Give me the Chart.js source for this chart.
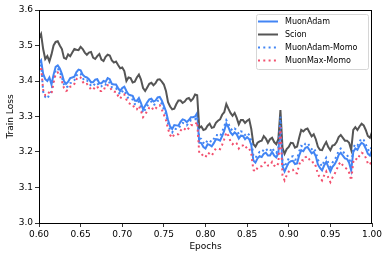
<!DOCTYPE html>
<html>
<head>
<meta charset="utf-8">
<script src="https://cdn.jsdelivr.net/npm/chart.js@4"></script>
<style>
  html, body { margin: 0; padding: 0; background: #fff; }
</style>
</head>
<body>
<canvas id="chart" width="389" height="257"></canvas>
<script>
  const epochs = [
    0.6000, 0.6025, 0.6050, 0.6075, 0.6100, 0.6125, 0.6150, 0.6175, 0.6200, 0.6225,
    0.6250, 0.6275, 0.6300, 0.6325, 0.6350, 0.6375, 0.6400, 0.6425, 0.6450, 0.6475,
    0.6500, 0.6525, 0.6550, 0.6575, 0.6600, 0.6625, 0.6650, 0.6675, 0.6700, 0.6725,
    0.6750, 0.6775, 0.6800, 0.6825, 0.6850, 0.6875, 0.6900, 0.6925, 0.6950, 0.6975,
    0.7000, 0.7025, 0.7050, 0.7075, 0.7100, 0.7125, 0.7150, 0.7175, 0.7200, 0.7225,
    0.7250, 0.7275, 0.7300, 0.7325, 0.7350, 0.7375, 0.7400, 0.7425, 0.7450, 0.7475,
    0.7500, 0.7525, 0.7550, 0.7575, 0.7600, 0.7625, 0.7650, 0.7675, 0.7700, 0.7725,
    0.7750, 0.7775, 0.7800, 0.7825, 0.7850, 0.7875, 0.7900, 0.7925, 0.7950, 0.7975,
    0.8000, 0.8025, 0.8050, 0.8075, 0.8100, 0.8125, 0.8150, 0.8175, 0.8200, 0.8225,
    0.8250, 0.8275, 0.8300, 0.8325, 0.8350, 0.8375, 0.8400, 0.8425, 0.8450, 0.8475,
    0.8500, 0.8525, 0.8550, 0.8575, 0.8600, 0.8625, 0.8650, 0.8675, 0.8700, 0.8725,
    0.8750, 0.8775, 0.8800, 0.8825, 0.8850, 0.8875, 0.8900, 0.8925, 0.8950, 0.8975,
    0.9000, 0.9025, 0.9050, 0.9075, 0.9100, 0.9125, 0.9150, 0.9175, 0.9200, 0.9225,
    0.9250, 0.9275, 0.9300, 0.9325, 0.9350, 0.9375, 0.9400, 0.9425, 0.9450, 0.9475,
    0.9500, 0.9525, 0.9550, 0.9575, 0.9600, 0.9625, 0.9650, 0.9675, 0.9700, 0.9725,
    0.9750, 0.9775, 0.9800, 0.9825, 0.9850, 0.9875, 0.9900, 0.9925, 0.9950, 0.9975,
    1.0000
  ];

  const muonAdam = [
    3.450, 3.458, 3.420, 3.405, 3.400, 3.410, 3.390, 3.418, 3.440, 3.444,
    3.435, 3.420, 3.400, 3.392, 3.398, 3.408, 3.410, 3.412, 3.425, 3.432,
    3.430, 3.418, 3.412, 3.410, 3.405, 3.396, 3.397, 3.404, 3.405, 3.394,
    3.394, 3.400, 3.398, 3.408, 3.405, 3.392, 3.390, 3.390, 3.380, 3.372,
    3.380, 3.384, 3.372, 3.362, 3.360, 3.358, 3.345, 3.344, 3.352, 3.338,
    3.320, 3.330, 3.340, 3.348, 3.350, 3.342, 3.345, 3.354, 3.355, 3.345,
    3.330, 3.315, 3.290, 3.272, 3.265, 3.276, 3.275, 3.274, 3.285, 3.292,
    3.290, 3.284, 3.290, 3.298, 3.298, 3.300, 3.310, 3.226, 3.225, 3.214,
    3.210, 3.222, 3.220, 3.216, 3.225, 3.236, 3.235, 3.232, 3.245, 3.260,
    3.280, 3.270, 3.255, 3.248, 3.255, 3.250, 3.238, 3.246, 3.245, 3.236,
    3.242, 3.236, 3.220, 3.176, 3.170, 3.182, 3.188, 3.186, 3.195, 3.198,
    3.190, 3.190, 3.200, 3.190, 3.185, 3.196, 3.290, 3.160, 3.145, 3.158,
    3.170, 3.174, 3.175, 3.166, 3.168, 3.190, 3.205, 3.202, 3.212, 3.214,
    3.205, 3.196, 3.200, 3.188, 3.165, 3.155, 3.148, 3.162, 3.172, 3.158,
    3.145, 3.158, 3.165, 3.176, 3.192, 3.198, 3.190, 3.182, 3.180, 3.170,
    3.148, 3.200, 3.210, 3.206, 3.218, 3.226, 3.222, 3.210, 3.195, 3.190,
    3.205
  ];

  const scion = [
    3.520, 3.532, 3.490, 3.462, 3.470, 3.455, 3.475, 3.500, 3.510, 3.512,
    3.500, 3.490, 3.465, 3.462, 3.475, 3.470, 3.480, 3.490, 3.488, 3.487,
    3.496, 3.490, 3.480, 3.474, 3.480, 3.482, 3.466, 3.462, 3.470, 3.476,
    3.460, 3.456, 3.468, 3.474, 3.472, 3.458, 3.452, 3.455, 3.445, 3.436,
    3.438, 3.428, 3.400, 3.410, 3.408, 3.396, 3.398, 3.410, 3.418, 3.404,
    3.380, 3.372, 3.382, 3.392, 3.395, 3.388, 3.394, 3.404, 3.405, 3.398,
    3.390, 3.372, 3.340, 3.328, 3.320, 3.322, 3.335, 3.345, 3.345, 3.338,
    3.342, 3.350, 3.352, 3.344, 3.350, 3.362, 3.360, 3.268, 3.272, 3.262,
    3.264, 3.274, 3.280, 3.268, 3.270, 3.282, 3.288, 3.292, 3.305, 3.312,
    3.335, 3.322, 3.310, 3.302, 3.310, 3.296, 3.278, 3.290, 3.290, 3.282,
    3.288, 3.292, 3.265, 3.222, 3.215, 3.226, 3.230, 3.232, 3.245, 3.238,
    3.226, 3.236, 3.240, 3.228, 3.222, 3.236, 3.318, 3.212, 3.195, 3.208,
    3.214, 3.226, 3.225, 3.212, 3.215, 3.240, 3.262, 3.258, 3.264, 3.266,
    3.255, 3.244, 3.250, 3.236, 3.215, 3.206, 3.205, 3.218, 3.228, 3.214,
    3.205, 3.218, 3.220, 3.228, 3.242, 3.248, 3.240, 3.232, 3.232, 3.226,
    3.206, 3.262, 3.270, 3.262, 3.272, 3.280, 3.275, 3.262, 3.245, 3.240,
    3.256
  ];

  const muonAdamMomo = [
    3.440, 3.450, 3.370, 3.355, 3.350, 3.362, 3.370, 3.405, 3.430, 3.436,
    3.425, 3.410, 3.390, 3.382, 3.385, 3.394, 3.395, 3.402, 3.415, 3.422,
    3.420, 3.408, 3.400, 3.402, 3.395, 3.386, 3.385, 3.394, 3.395, 3.384,
    3.385, 3.392, 3.390, 3.398, 3.395, 3.382, 3.380, 3.380, 3.370, 3.362,
    3.370, 3.374, 3.360, 3.350, 3.350, 3.348, 3.335, 3.334, 3.342, 3.328,
    3.310, 3.320, 3.330, 3.338, 3.342, 3.332, 3.335, 3.344, 3.345, 3.335,
    3.320, 3.305, 3.280, 3.262, 3.255, 3.266, 3.265, 3.265, 3.275, 3.282,
    3.280, 3.275, 3.282, 3.290, 3.290, 3.292, 3.300, 3.238, 3.237, 3.226,
    3.222, 3.234, 3.232, 3.228, 3.237, 3.248, 3.247, 3.244, 3.257, 3.272,
    3.290, 3.280, 3.267, 3.260, 3.266, 3.262, 3.250, 3.258, 3.257, 3.248,
    3.254, 3.248, 3.232, 3.190, 3.183, 3.194, 3.200, 3.198, 3.207, 3.210,
    3.202, 3.202, 3.212, 3.202, 3.197, 3.208, 3.300, 3.172, 3.158, 3.170,
    3.182, 3.186, 3.188, 3.178, 3.180, 3.202, 3.217, 3.214, 3.224, 3.226,
    3.217, 3.208, 3.212, 3.200, 3.178, 3.168, 3.160, 3.174, 3.184, 3.170,
    3.158, 3.170, 3.178, 3.188, 3.204, 3.210, 3.202, 3.194, 3.192, 3.182,
    3.160, 3.212, 3.222, 3.218, 3.230, 3.238, 3.234, 3.222, 3.207, 3.202,
    3.217
  ];

  const muonMaxMomo = [
    3.430, 3.440, 3.375, 3.360, 3.360, 3.370, 3.365, 3.395, 3.420, 3.424,
    3.415, 3.400, 3.380, 3.372, 3.375, 3.384, 3.385, 3.392, 3.405, 3.412,
    3.410, 3.398, 3.390, 3.392, 3.385, 3.376, 3.375, 3.384, 3.385, 3.372,
    3.372, 3.380, 3.378, 3.388, 3.385, 3.372, 3.370, 3.370, 3.358, 3.350,
    3.360, 3.362, 3.348, 3.338, 3.335, 3.334, 3.322, 3.320, 3.330, 3.316,
    3.298, 3.306, 3.315, 3.325, 3.328, 3.318, 3.322, 3.330, 3.332, 3.320,
    3.305, 3.290, 3.265, 3.248, 3.240, 3.250, 3.250, 3.250, 3.260, 3.268,
    3.265, 3.260, 3.268, 3.276, 3.275, 3.276, 3.285, 3.196, 3.195, 3.188,
    3.185, 3.198, 3.195, 3.190, 3.200, 3.210, 3.210, 3.208, 3.220, 3.236,
    3.255, 3.246, 3.230, 3.222, 3.228, 3.224, 3.210, 3.218, 3.218, 3.210,
    3.215, 3.210, 3.195, 3.150, 3.145, 3.156, 3.160, 3.160, 3.168, 3.172,
    3.162, 3.162, 3.172, 3.162, 3.158, 3.168, 3.270, 3.134, 3.120, 3.134,
    3.145, 3.150, 3.150, 3.140, 3.140, 3.164, 3.178, 3.176, 3.185, 3.188,
    3.178, 3.170, 3.172, 3.160, 3.138, 3.128, 3.120, 3.134, 3.145, 3.128,
    3.115, 3.128, 3.138, 3.150, 3.165, 3.172, 3.162, 3.156, 3.152, 3.142,
    3.120, 3.172, 3.182, 3.178, 3.190, 3.198, 3.195, 3.184, 3.168, 3.164,
    3.178
  ];

  const xTicks = [0.60, 0.65, 0.70, 0.75, 0.80, 0.85, 0.90, 0.95, 1.00];
  const yTicks = [3.0, 3.1, 3.2, 3.3, 3.4, 3.5, 3.6];

  const blue = '#4285f4';
  const grey = '#555555';
  const pink = '#f2506e';
  const font = { family: "'DejaVu Sans'", size: 9 };

  const series = [
    { label: 'MuonAdam', values: muonAdam, color: blue, dash: [], order: 3 },
    { label: 'Scion', values: scion, color: grey, dash: [], order: 2 },
    { label: 'MuonAdam-Momo', values: muonAdamMomo, color: blue, dash: [2, 3.3], order: 1 },
    { label: 'MuonMax-Momo', values: muonMaxMomo, color: pink, dash: [2, 3.3], order: 0 },
  ];

  // matplotlib-like box: spines on all sides + legend inside the axes
  const frameAndLegend = {
    id: 'frameAndLegend',
    afterDatasetsDraw(chart) {
      const { ctx, chartArea: a } = chart;
      ctx.save();
      ctx.strokeStyle = '#000';
      ctx.lineWidth = 1;
      ctx.strokeRect(a.left + 0.5, a.top + 0.5, a.right - a.left - 1, a.bottom - a.top);

      const bx = 256, by = 14, bw = 112, bh = 55;
      ctx.fillStyle = 'rgba(255,255,255,0.8)';
      ctx.strokeStyle = '#d6d6d6';
      ctx.lineWidth = 1;
      ctx.beginPath();
      ctx.roundRect(bx + 0.5, by + 0.5, bw, bh, 2);
      ctx.fill();
      ctx.stroke();

      ctx.font = "8px 'DejaVu Sans'";
      ctx.textBaseline = 'middle';
      series.forEach((s, i) => {
        const y = by + 7.5 + i * 13;
        ctx.strokeStyle = s.color;
        ctx.lineWidth = 2;
        ctx.setLineDash(s.dash);
        ctx.beginPath();
        ctx.moveTo(258, y);
        ctx.lineTo(278, y);
        ctx.stroke();
        ctx.setLineDash([]);
        ctx.fillStyle = '#000';
        ctx.fillText(s.label, 285, y + 0.5);
      });
      ctx.restore();
    }
  };

  const zeroPad = s => { s.paddingLeft = 0; s.paddingRight = 0; s.paddingTop = 0; s.paddingBottom = 0; };

  new Chart(document.getElementById('chart'), {
    type: 'line',
    data: {
      datasets: series.map(s => ({
        label: s.label,
        data: epochs.map((e, i) => ({ x: e, y: s.values[i] })),
        borderColor: s.color,
        borderWidth: 2,
        borderDash: s.dash,
        pointRadius: 0,
        tension: 0,
        fill: false,
        order: s.order,
      })),
    },
    options: {
      responsive: false,
      animation: false,
      devicePixelRatio: 1,
      layout: { padding: { left: 0, top: 10, right: 17, bottom: 0 } },
      plugins: { legend: { display: false }, tooltip: { enabled: false } },
      scales: {
        x: {
          type: 'linear', min: 0.6, max: 1.0,
          afterBuildTicks: s => { s.ticks = xTicks.map(v => ({ value: v })); },
          afterFit: s => { s.height = 34; zeroPad(s); },
          ticks: { callback: v => v.toFixed(2), font, color: '#000', padding: 2, maxRotation: 0, autoSkip: false },
          grid: { drawOnChartArea: false, tickLength: 4, color: '#000', lineWidth: 0.8 },
          border: { display: false },
          title: { display: true, text: 'Epochs', font, color: '#000', padding: { top: 0, bottom: 5 } },
        },
        y: {
          min: 3.0, max: 3.6,
          afterBuildTicks: s => { s.ticks = yTicks.map(v => ({ value: v })); },
          afterFit: s => { s.width = 39; zeroPad(s); },
          ticks: { callback: v => v.toFixed(1), font, color: '#000', padding: 2, autoSkip: false },
          grid: { drawOnChartArea: false, tickLength: 4, color: '#000', lineWidth: 0.8 },
          border: { display: false },
          title: { display: true, text: 'Train Loss', font, color: '#000', padding: { top: 5, bottom: 0 } },
        },
      },
    },
    plugins: [frameAndLegend],
  });
</script>
</body>
</html>
